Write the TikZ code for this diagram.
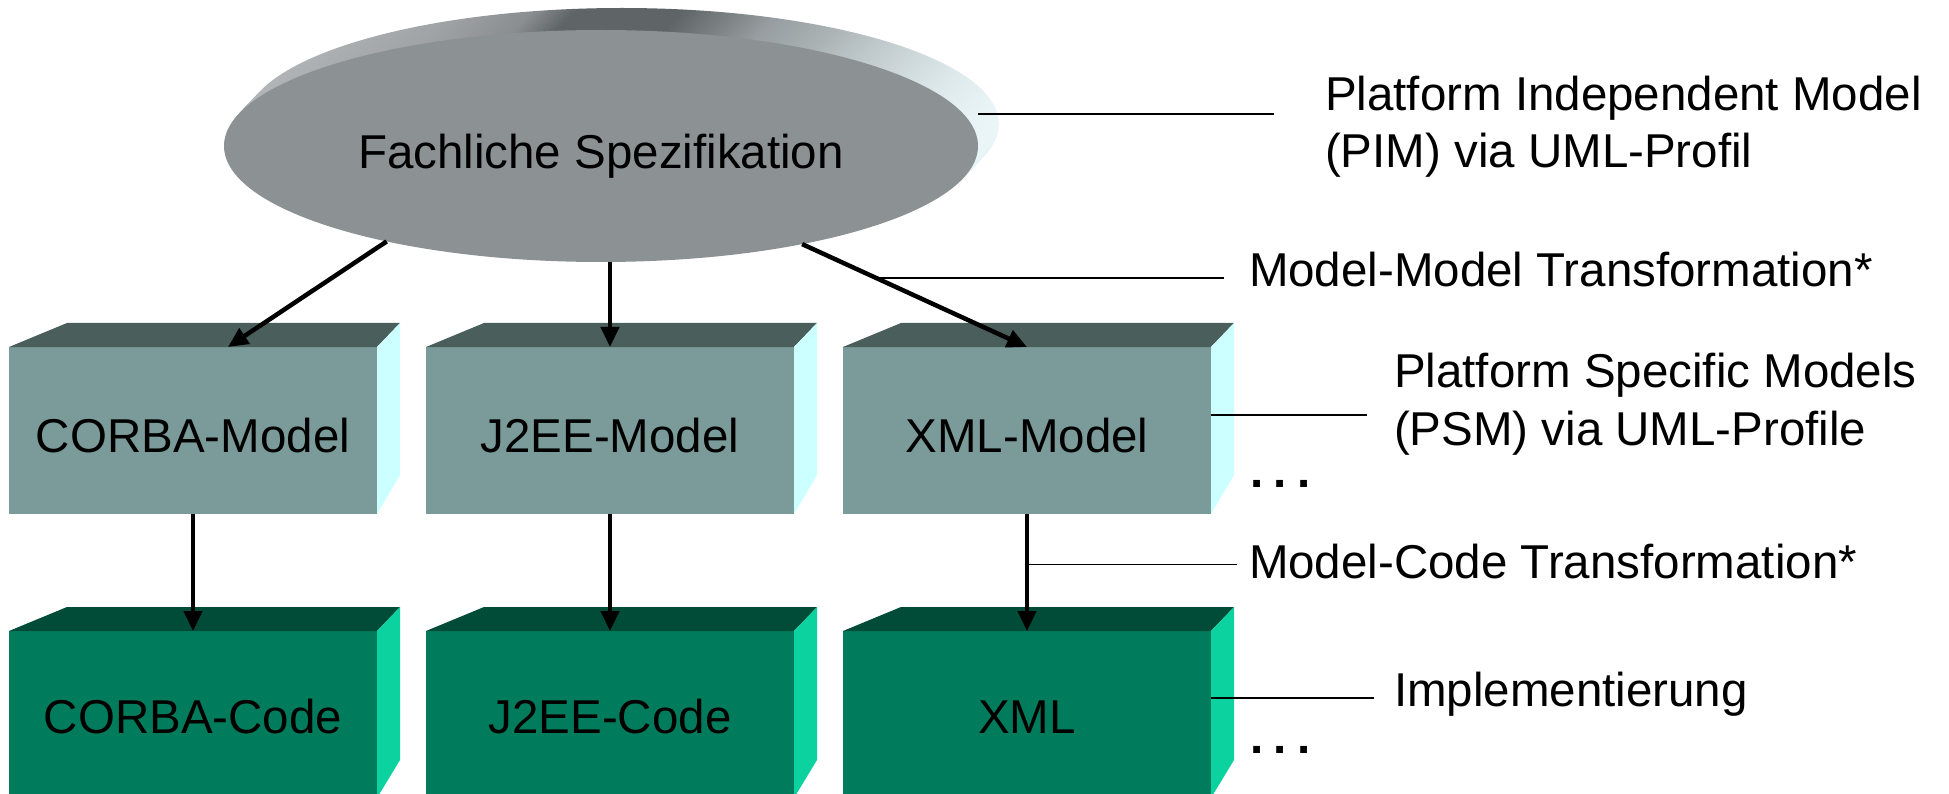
\documentclass[tikz,border=0pt]{standalone}
\usepackage{fontspec}
\setmainfont{Liberation Sans}
\usetikzlibrary{arrows.meta,positioning,shapes.geometric}

\definecolor{pimgrey}{RGB}{140,145,148}
\definecolor{psmfront}{RGB}{122,155,153}
\definecolor{psmtop}{RGB}{74,94,92}
\definecolor{psmside}{RGB}{204,255,255}
\definecolor{codefront}{RGB}{0,123,92}
\definecolor{codetop}{RGB}{0,76,56}
\definecolor{codeside}{RGB}{12,210,160}
% colours of the 3d rim of the ellipse
\definecolor{bandA}{RGB}{180,184,186}
\definecolor{bandB}{RGB}{160,164,166}
\definecolor{bandC}{RGB}{138,142,144}
\definecolor{bandD}{RGB}{95,100,102}
\definecolor{bandE}{RGB}{122,127,129}
\definecolor{bandF}{RGB}{151,157,160}
\definecolor{bandG}{RGB}{171,179,181}
\definecolor{bandH}{RGB}{197,207,209}
\definecolor{bandI}{RGB}{220,232,234}
\definecolor{bandJ}{RGB}{234,246,248}
\pgfdeclarehorizontalshading{pimband}{100bp}{color(0bp)=(bandA); color(25bp)=(bandA);
  color(38bp)=(bandB); color(44bp)=(bandC); color(47bp)=(bandD); color(54bp)=(bandD);
  color(57bp)=(bandE); color(60bp)=(bandF); color(64bp)=(bandG); color(68bp)=(bandH);
  color(72bp)=(bandI); color(75bp)=(bandJ); color(100bp)=(bandJ)}

\tikzset{
  lbl/.style={font=\fontsize{47.5pt}{57.5pt}\selectfont, inner sep=0pt, outer sep=0pt},
  pimell/.style={ellipse, fill=pimgrey, minimum width=754pt, minimum height=232pt,
    text height=46pt, text depth=0pt, lbl},
  psmbox/.style={rectangle, fill=psmfront, minimum width=368pt, minimum height=167pt,
    text height=43pt, text depth=0pt, lbl},
  codebox/.style={psmbox, fill=codefront, text height=37pt},
  arr/.style={line width=4.5pt, -{Triangle[length=20pt,width=18pt]}},
  leader/.style={line width=1.6pt},
}
\newcommand{\threedots}{\textbf{.\hspace{0.22em}.\hspace{0.22em}.}}

\begin{document}
\begin{tikzpicture}[x=1pt,y=-1pt]
	\useasboundingbox (0,0) rectangle (1949,794);
	% rim of the ellipse
	\foreach \k in {8,7,...,1}
		\shade[shading=pimband, shift={(2.6*\k,-2.75*\k)}] (601,146) ellipse [x radius=377, y radius=116];
	\node[pimell] (pim) at (601,146) {Fachliche Spezifikation};

	% models and code
	\node[psmbox] (corbam) at (193,430.5) {CORBA-Model};
	\node[psmbox, right=49pt of corbam] (j2eem) {J2EE-Model};
	\node[psmbox, right=49pt of j2eem] (xmlm) {XML-Model};
	\node[codebox, below=117pt of corbam] (corbac) {CORBA-Code};
	\node[codebox, below=117pt of j2eem] (j2eec) {J2EE-Code};
	\node[codebox, below=117pt of xmlm] (xmlc) {XML};
	\foreach \b in {corbam,j2eem,xmlm} {
		\fill[psmtop] (\b.north west) -- ++(58,-24) -- ([shift={(23,-24)}]\b.north east) -- (\b.north east) -- cycle;
		\fill[psmside] (\b.north east) -- ++(23,-24) -- ++(0,152) -- (\b.south east) -- cycle;
	}
	\foreach \b in {corbac,j2eec,xmlc} {
		\fill[codetop] (\b.north west) -- ++(58,-24) -- ([shift={(23,-24)}]\b.north east) -- (\b.north east) -- cycle;
		\fill[codeside] (\b.north east) -- ++(23,-24) -- ++(0,153) -- (\b.south east) -- cycle;
	}

	% labels on the right
	\node[lbl, align=left, anchor=base west] (pimlbl) at (1325,168) {Platform Independent Model\\(PIM) via UML-Profil};
	\node[lbl, anchor=base west] (mmlbl) at (1249,287) {Model-Model Transformation*};
	\node[lbl, align=left, anchor=base west] (psmlbl) at (1394,445) {Platform Specific Models\\(PSM) via UML-Profile};
	\node[lbl, anchor=base west] (mclbl) at (1249,578) {Model-Code Transformation*};
	\node[lbl, anchor=base west] (impllbl) at (1394,706) {Implementierung};
	\node[lbl, anchor=base west] (dotsm) at (1250,487) {\threedots};
	\node[lbl, anchor=base west] (dotsc) at (1250,753) {\threedots};

	% transformations
	\draw[arr] (pim.204) -- ([xshift=35pt]corbam.north);
	\draw[arr] (pim.south -| j2eem.north) -- (j2eem.north);
	\draw[arr] (pim.334) -- coordinate[pos=0.33] (mmstart) (xmlm.north);
	\draw[arr] (corbam.south) -- (corbac.north);
	\draw[arr] (j2eem.south) -- (j2eec.north);
	\draw[arr] (xmlm.south) -- coordinate[pos=0.43] (mcstart) (xmlc.north);

	% leader lines
	\coordinate (pimend) at (1274,114);
	\coordinate (mmend) at (1224,281);
	\coordinate (psmend) at (1367,415);
	\coordinate (mcend) at (1237,564);
	\coordinate (implend) at (1374,698);
	\draw[leader] (pim.east |- pimend) -- (pimend);
	\draw[leader] (mmstart) -- (mmstart -| mmend);
	\draw[leader] (xmlm.east |- psmend) -- (psmend);
	\draw[leader] (mcstart) -- (mcstart -| mcend);
	\draw[leader] (xmlc.east |- implend) -- (implend);
\end{tikzpicture}
\end{document}
